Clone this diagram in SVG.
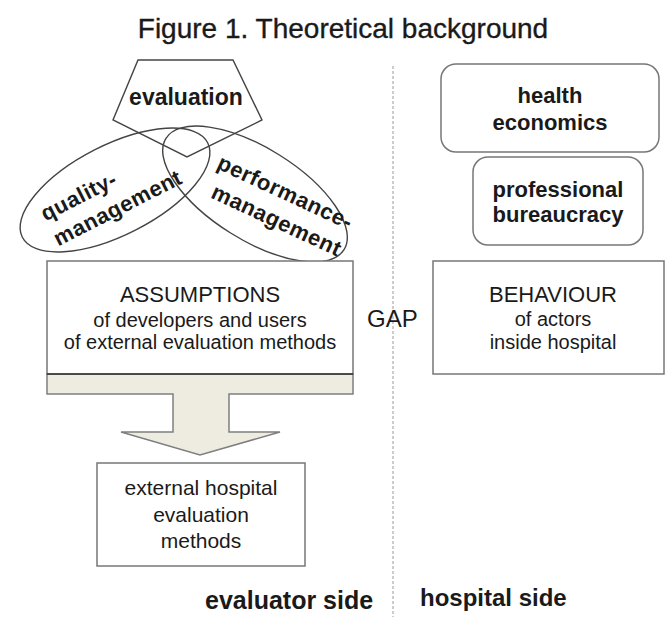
<svg xmlns="http://www.w3.org/2000/svg" width="667" height="617" viewBox="0 0 667 617">
<style>
  .t { font-family: "Liberation Sans", Arial, sans-serif; fill: #1a1a1a; }
  .b { font-weight: bold; }
  .box { fill: #ffffff; stroke: #777777; stroke-width: 1.5; }
  .shape { fill: none; stroke: #444444; stroke-width: 1.4; }
  .mid { text-anchor: middle; }
</style>
<rect width="667" height="617" fill="#ffffff"/>
<text class="t mid" x="343" y="38" font-size="28" stroke="#1a1a1a" stroke-width="0.35">Figure 1. Theoretical background</text>

<g id="divider">
  <line x1="393" y1="66" x2="393" y2="617" stroke="#9a9a9a" stroke-width="1" stroke-dasharray="3,2"/>
</g>

<g id="evaluation">
  <polygon class="shape" points="138,60 233,60 262,120 187,157 113,120" stroke="#555555" stroke-width="1.2"/>
  <text class="t b mid" x="186" y="105" font-size="23">evaluation</text>
</g>

<g id="quality-management">
  <ellipse class="shape" cx="115" cy="190" rx="104" ry="45" transform="rotate(-27 115 190)"/>
  <g transform="translate(100,205) rotate(-27)">
    <text class="t b" x="-56" y="-10" font-size="22" letter-spacing="0.5">quality-</text>
    <text class="t b" x="-56" y="18" font-size="22" letter-spacing="0.5">management</text>
  </g>
</g>

<g id="performance-management">
  <ellipse class="shape" cx="255" cy="194" rx="105" ry="46" transform="rotate(32 255 194)"/>
  <g transform="translate(278,207) rotate(25)">
    <text class="t b" x="-73" y="-9" font-size="22" letter-spacing="0.5">performance-</text>
    <text class="t b" x="-66" y="20" font-size="22" letter-spacing="0.5">management</text>
  </g>
</g>

<g id="health-economics">
  <rect class="box" x="441" y="64" width="218" height="88" rx="15" ry="15"/>
  <text class="t b mid" x="550" y="103" font-size="22">health</text>
  <text class="t b mid" x="550" y="130" font-size="22">economics</text>
</g>

<g id="professional-bureaucracy">
  <rect class="box" x="473" y="157" width="170" height="88" rx="15" ry="15"/>
  <text class="t b mid" x="558" y="197" font-size="22">professional</text>
  <text class="t b mid" x="558" y="222" font-size="22">bureaucracy</text>
</g>

<g id="connectors">
  <path d="M47,374 H353 V394 H229 V432 H280 L200,455 L121,432 H173 V394 H47 Z" fill="#eeece1" stroke="#7f7f7f" stroke-width="1.5"/>
</g>

<g id="assumptions">
  <rect class="box" x="47" y="261" width="306" height="113"/>
  <line x1="47" y1="374" x2="353" y2="374" stroke="#333333" stroke-width="1.5"/>
  <text class="t mid" x="200" y="302" font-size="22">ASSUMPTIONS</text>
  <text class="t mid" x="200" y="327" font-size="20">of developers and users</text>
  <text class="t mid" x="200" y="349" font-size="20">of external evaluation methods</text>
</g>

<g id="gap">
  <text class="t" x="367" y="327" font-size="24">GAP</text>
</g>

<g id="behaviour">
  <rect class="box" x="433" y="261" width="231" height="113"/>
  <text class="t mid" x="553" y="302" font-size="22">BEHAVIOUR</text>
  <text class="t mid" x="553" y="326" font-size="20">of actors</text>
  <text class="t mid" x="553" y="349" font-size="20">inside hospital</text>
</g>

<g id="external-methods">
  <rect class="box" x="97" y="463" width="208" height="103"/>
  <text class="t mid" x="201" y="495" font-size="21">external hospital</text>
  <text class="t mid" x="201" y="522" font-size="21">evaluation</text>
  <text class="t mid" x="201" y="548" font-size="21">methods</text>
</g>

<g id="labels">
  <text class="t b" x="205" y="609" font-size="25">evaluator side</text>
  <text class="t b" x="420" y="606" font-size="24">hospital side</text>
</g>
</svg>
